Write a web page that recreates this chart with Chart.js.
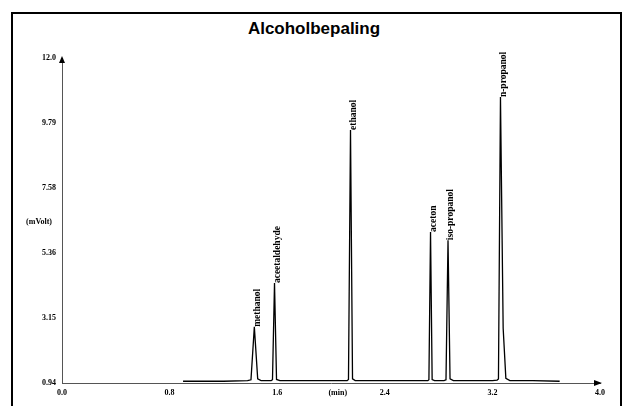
<!DOCTYPE html>
<html>
<head>
<meta charset="utf-8">
<script src="https://cdn.jsdelivr.net/npm/chart.js@4/dist/chart.umd.min.js"></script>
<style>
  html,body{margin:0;padding:0;background:#fff;}
  #wrap{position:relative;width:628px;height:406px;overflow:hidden;}
  #frame{position:absolute;left:11px;top:12px;width:607px;height:400px;border-left:2px solid #000;border-top:2px solid #000;border-right:2px solid #000;}
  #title{position:absolute;left:0;top:19px;width:628px;text-align:center;font:bold 17px "Liberation Sans",Arial,sans-serif;color:#000;}
  canvas{position:absolute;left:0;top:0;}
</style>
</head>
<body>
<div id="wrap">
  <div id="frame"></div>
  <div id="title">Alcoholbepaling</div>
  <canvas id="c" width="628" height="406"></canvas>
</div>
<script>
// Chromatogram trace: retention time (min) and signal (mVolt)
const traceTime   = [0.90, 1.20, 1.38, 1.405, 1.43, 1.455, 1.48, 1.555, 1.565, 1.58, 1.595, 1.62, 2.00, 2.12, 2.13, 2.145, 2.16, 2.18, 2.60, 2.72, 2.728, 2.74, 2.752, 2.77, 2.84, 2.855, 2.87, 2.885, 2.91, 3.20, 3.235, 3.245, 3.26, 3.28, 3.30, 3.33, 3.50, 3.70];
const traceSignal = [1.00, 1.00, 1.02, 1.05, 2.85, 1.08, 1.02, 1.02, 1.05, 4.34, 1.06, 1.02, 1.02, 1.02, 1.06, 9.55, 1.08, 1.02, 1.02, 1.02, 1.05, 6.08, 1.06, 1.02, 1.02, 1.05, 5.80, 1.08, 1.02, 1.02, 1.04, 1.08, 10.67, 2.80, 1.10, 1.02, 1.02, 1.00];

// Peak identification labels
const peakNames   = ["methanol", "aceetaldehyde", "ethanol", "aceton", "iso-propanol", "n-propanol"];
const peakTimes   = [1.43, 1.58, 2.145, 2.74, 2.87, 3.26];
const peakHeights = [2.85, 4.34, 9.55, 6.08, 5.80, 10.67];

// Axis ticks
const xTickValues = [0.0, 0.8, 1.6, 2.05, 2.4, 3.2, 4.0];
const xTickLabels = ["0.0", "0.8", "1.6", "(min)", "2.4", "3.2", "4.0"];
const yTickValues = [0.94, 3.15, 5.36, 6.42, 7.58, 9.79, 12.0];
const yTickLabels = ["0.94", "3.15", "5.36", "(mVolt)  ", "7.58", "9.79", "12.0"];

const points = traceTime.map((t, i) => ({x: t, y: traceSignal[i]}));

const tickFont = {family: "'Liberation Serif','Times New Roman',serif", size: 8, weight: 'bold'};

const decorations = {
  id: 'decorations',
  afterDraw(chart) {
    const {ctx, scales: {x, y}} = chart;
    ctx.save();
    // axis arrows
    ctx.fillStyle = '#000';
    const xa = x.getPixelForValue(4.0), ya = y.getPixelForValue(0.94);
    ctx.beginPath();
    ctx.moveTo(xa + 2, ya); ctx.lineTo(xa - 6, ya - 3); ctx.lineTo(xa - 6, ya + 3); ctx.closePath(); ctx.fill();
    const xb = x.getPixelForValue(0), yb = y.getPixelForValue(12.0);
    ctx.beginPath();
    ctx.moveTo(xb, yb - 2); ctx.lineTo(xb - 3, yb + 5); ctx.lineTo(xb + 3, yb + 5); ctx.closePath(); ctx.fill();
    // peak labels, rotated, starting at apex
    ctx.font = "bold 9.5px 'Liberation Serif','Times New Roman',serif";
    ctx.textAlign = 'left';
    ctx.textBaseline = 'middle';
    peakNames.forEach((name, i) => {
      const px = x.getPixelForValue(peakTimes[i]) + 3;
      const py = y.getPixelForValue(peakHeights[i]);
      ctx.save();
      ctx.translate(px, py);
      ctx.rotate(-Math.PI / 2);
      ctx.fillText(name, 0, 0);
      ctx.restore();
    });
    ctx.restore();
  }
};

new Chart(document.getElementById('c'), {
  type: 'line',
  data: {
    datasets: [{
      data: points,
      borderColor: '#000',
      borderWidth: 1.3,
      pointRadius: 0,
      tension: 0,
      fill: false
    }]
  },
  options: {
    responsive: false,
    animation: false,
    layout: {padding: {top: 58, right: 28, left: 10, bottom: 0}},
    plugins: {legend: {display: false}, tooltip: {enabled: false}, title: {display: false}},
    scales: {
      x: {
        type: 'linear', min: 0, max: 4.0,
        afterBuildTicks: s => { s.ticks = xTickValues.map(v => ({value: v})); },
        afterFit: s => { s.height = 23; },
        border: {display: true, color: '#555', width: 1, dash: [3, 4]},
        grid: {display: false, drawTicks: true, tickLength: 3},
        ticks: {
          color: '#000', font: tickFont, maxRotation: 0, autoSkip: false, padding: 2,
          callback: (v) => { const i = xTickValues.indexOf(v); return i >= 0 ? xTickLabels[i] : ''; }
        }
      },
      y: {
        type: 'linear', min: 0.94, max: 12.0,
        afterBuildTicks: s => { s.ticks = yTickValues.map(v => ({value: v})); },
        afterFit: s => { s.width = 52; },
        border: {display: true, color: '#555', width: 1, dash: [2, 5]},
        grid: {display: false, drawTicks: true, tickLength: 3},
        ticks: {
          color: '#000', font: tickFont, autoSkip: false, padding: 3,
          callback: (v) => { const i = yTickValues.indexOf(v); return i >= 0 ? yTickLabels[i] : ''; }
        }
      }
    }
  },
  plugins: [decorations]
});
</script>
</body>
</html>
